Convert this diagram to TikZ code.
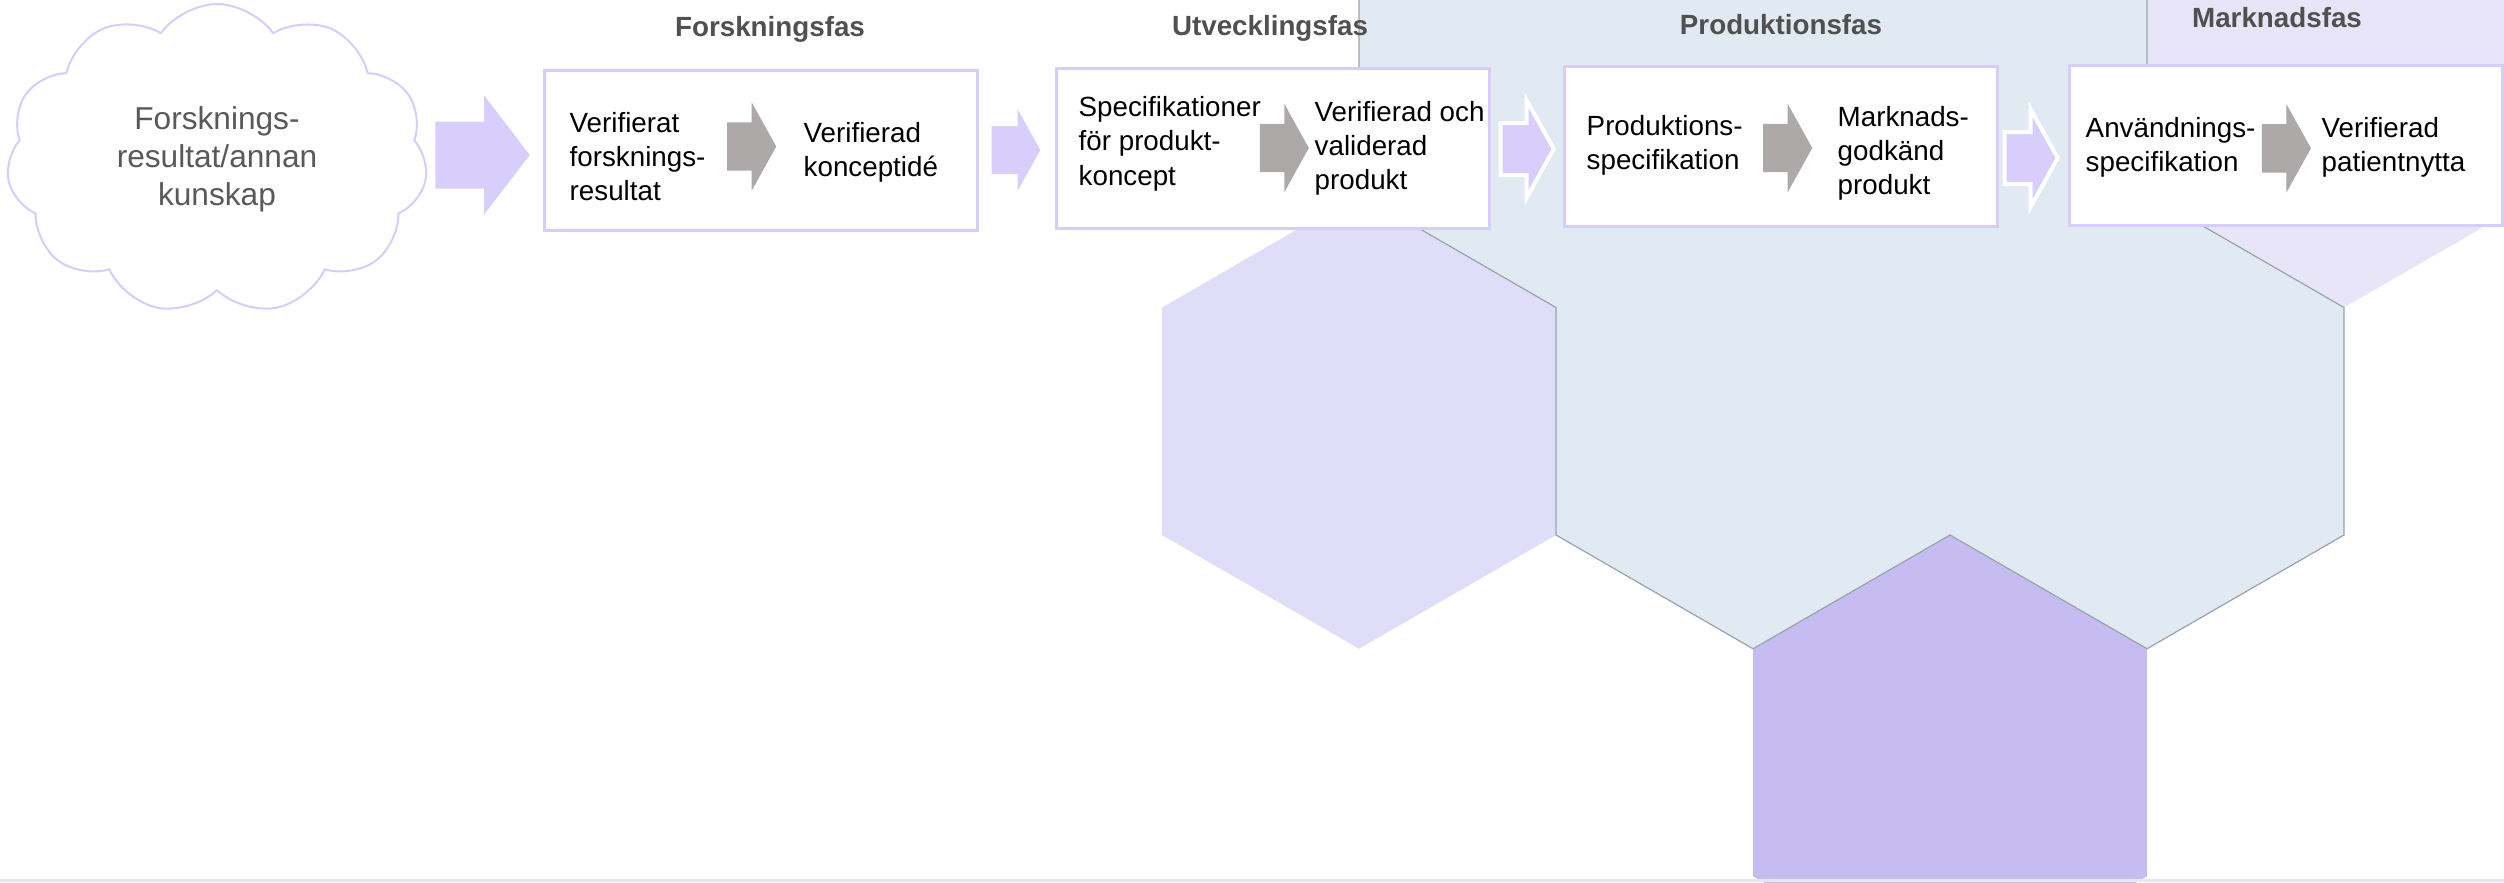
\documentclass[tikz,border=0pt]{standalone}
\usepackage{fontspec}
\setmainfont{Liberation Sans}
\usepackage{xcolor}
\usepackage{tikz}
\usetikzlibrary{shapes.symbols, shapes.arrows}
\definecolor{phaseblue}{HTML}{E1E9F2}
\definecolor{phaselilac}{HTML}{E0DDF9}
\definecolor{phaselight}{HTML}{E9E5F8}
\definecolor{phasepurple}{HTML}{C6BCF2}
\definecolor{hexline}{HTML}{9AA3AD}
\definecolor{framelilac}{HTML}{D7CDFA}
\definecolor{arrowlilac}{HTML}{D7CEFC}
\definecolor{arrowgray}{HTML}{ADA9A8}
\definecolor{headgray}{HTML}{505050}
\definecolor{cloudgray}{HTML}{595959}
\newcommand{\hexpath}[2]{(#1,#2) +(90:227.5) -- +(30:227.5) -- +(-30:227.5) -- +(-90:227.5) -- +(-150:227.5) -- +(150:227.5) -- cycle}

\begin{document}
\begin{tikzpicture}[x=0.1mm, y=-0.1mm,
    box/.style={rectangle, draw=framelilac, line width=0.3mm, fill=white, minimum width=43.3mm, minimum height=16mm, inner sep=0pt},
    txt/.style={anchor=north west, align=left, inner sep=0pt, font=\fontsize{7.9}{9.7}\selectfont},
    phase/.style={anchor=base, inner sep=0pt, text=headgray, font=\bfseries\fontsize{7.9}{9.7}\selectfont},
    flowarrow/.style={single arrow, draw=white, line width=0.4mm, fill=arrowlilac, anchor=tip, inner xsep=0pt, inner ysep=2.4mm, minimum height=5.3mm, single arrow head extend=2.3mm, single arrow tip angle=122},
    grayarrow/.style={single arrow, fill=arrowgray, anchor=tip, inner xsep=0pt, inner ysep=2.35mm, minimum height=4.9mm, single arrow head extend=2mm, single arrow tip angle=122},
]
\useasboundingbox (0,0) rectangle (2504,882);
\clip (0,0) rectangle (2504,882);

\fill[phaselilac] \hexpath{1359}{421.25};
\fill[phaselight] \hexpath{2344}{80};
\fill[phasepurple] \hexpath{1950}{762.5};
\filldraw[fill=phaseblue, draw=hexline, line width=0.12mm] (1359,-33.75) -- (1556,-147.5) -- (1753,-33.75) -- (1950,-147.5) -- (2147,-33.75) -- (2147,193.75) -- (2344,307.5) -- (2344,535) -- (2147,648.75) -- (1950,535) -- (1753,648.75) -- (1556,535) -- (1556,307.5) -- (1359,193.75) -- cycle;
\fill[phaseblue] (0,879) rectangle (2504,882);

\node[cloud, cloud puffs=11, cloud puff arc=110, aspect=1.4, draw=framelilac, line width=0.2mm, fill=white, minimum width=42.1mm, minimum height=31mm, inner sep=0pt, align=center, text=cloudgray, font=\fontsize{9}{10.8}\selectfont] (idea) at (217,159) {Forsknings-\\resultat/annan\\kunskap};

\node[flowarrow, inner ysep=3.35mm, minimum height=9.9mm, single arrow head extend=3.05mm, single arrow tip angle=105] (start) at (535,155) {};

\node[box] (forsk) at (761,150.5) {};
\node[box] (utv) at (1272.5,148) {};
\node[box] (prod) at (1781,146.3) {};
\node[box] (mark) at (2285.5,145.3) {};

\node[flowarrow] (p12) at (1045,150) {};
\node[flowarrow] (p23) at (1556,149) {};
\node[flowarrow] (p34) at (2060,158) {};

\node[phase] (forsk-fas) at (770,36) {Forskningsfas};
\node[phase] (utv-fas) at (1270,35) {Utvecklingsfas};
\node[phase] (prod-fas) at (1781,34) {Produktionsfas};
\node[phase] (mark-fas) at (2277,27.7) {Marknadsfas};

\node[grayarrow] (s1) at (777,146.5) {};
\node[grayarrow] (s2) at (1309.6,148) {};
\node[grayarrow] (s3) at (1813,148) {};
\node[grayarrow] (s4) at (2311.7,148.3) {};

\node[txt] (forsk-in) at (569,111.3) {Verifierat\\forsknings-\\resultat};
\node[txt] (forsk-ut) at (803,121.3) {Verifierad\\konceptidé};
\node[txt] (utv-in) at (1078,96) {Specifikationer\\för produkt-\\koncept};
\node[txt] (utv-ut) at (1314,100.6) {Verifierad och\\validerad\\produkt};
\node[txt] (prod-in) at (1586,114.6) {Produktions-\\specifikation};
\node[txt] (prod-ut) at (1837,105.6) {Marknads-\\godkänd\\produkt};
\node[txt] (mark-in) at (2085,116.3) {Användnings-\\specifikation};
\node[txt] (mark-ut) at (2321,116.3) {Verifierad\\patientnytta};
\end{tikzpicture}
\end{document}
